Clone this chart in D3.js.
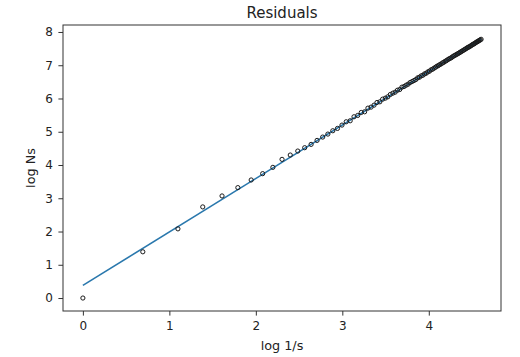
<!DOCTYPE html>
<html>
<head>
<meta charset="utf-8">
<script src="https://cdn.jsdelivr.net/npm/d3@7"></script>
<style>
  html, body { margin: 0; padding: 0; background: #fff; }
  svg { display: block; font-family: "DejaVu Sans", sans-serif; }
</style>
</head>
<body>
<svg id="chart" width="520" height="357"></svg>
<script>
// ---- data ----
const logInvS = [0, 0.693, 1.099, 1.386, 1.609, 1.792, 1.946, 2.079, 2.197, 2.303,
  2.398, 2.485, 2.565, 2.639, 2.708, 2.773, 2.833, 2.890, 2.944, 2.996,
  3.045, 3.091, 3.135, 3.178, 3.219, 3.258, 3.296, 3.332, 3.367, 3.401,
  3.434, 3.466, 3.497, 3.526, 3.555, 3.584, 3.611, 3.638, 3.664, 3.689,
  3.714, 3.738, 3.761, 3.784, 3.807, 3.829, 3.850, 3.871, 3.892, 3.912,
  3.932, 3.951, 3.970, 3.989, 4.007, 4.025, 4.043, 4.060, 4.078, 4.094,
  4.111, 4.127, 4.143, 4.159, 4.174, 4.190, 4.205, 4.220, 4.234, 4.248,
  4.263, 4.277, 4.290, 4.304, 4.317, 4.331, 4.344, 4.357, 4.369, 4.382,
  4.394, 4.407, 4.419, 4.431, 4.443, 4.454, 4.466, 4.477, 4.489, 4.500,
  4.511, 4.522, 4.533, 4.543, 4.554, 4.564, 4.575, 4.585, 4.595, 4.605];
const logNs = [0, 1.39, 2.08, 2.74, 3.07, 3.32, 3.55, 3.74, 3.93, 4.17,
  4.30, 4.42, 4.52, 4.62, 4.74, 4.84, 4.93, 5.03, 5.10, 5.20,
  5.30, 5.33, 5.45, 5.49, 5.58, 5.60, 5.71, 5.74, 5.80, 5.88,
  5.90, 5.98, 6.01, 6.05, 6.12, 6.16, 6.19, 6.25, 6.27, 6.34,
  6.36, 6.40, 6.43, 6.48, 6.51, 6.54, 6.57, 6.62, 6.64, 6.68,
  6.70, 6.74, 6.76, 6.80, 6.82, 6.86, 6.88, 6.91, 6.94, 6.97,
  6.99, 7.02, 7.04, 7.07, 7.09, 7.12, 7.14, 7.17, 7.19, 7.21,
  7.23, 7.26, 7.28, 7.30, 7.32, 7.34, 7.36, 7.38, 7.40, 7.42,
  7.44, 7.46, 7.48, 7.50, 7.52, 7.54, 7.55, 7.57, 7.59, 7.61,
  7.63, 7.64, 7.66, 7.68, 7.70, 7.71, 7.73, 7.75, 7.76, 7.78];
const fitX = [0, 4.605];
const fitY = [0.38, 7.78];
const xTicks = [0, 1, 2, 3, 4];
const yTicks = [0, 1, 2, 3, 4, 5, 6, 7, 8];
const titleText = "Residuals";
const xLabel = "log 1/s";
const yLabel = "log Ns";

// ---- layout ----
const plot = { left: 63, right: 501, top: 25, bottom: 311 };
const svg = d3.select("#chart");

const x = d3.scaleLinear().domain([-0.230, 4.835]).range([plot.left, plot.right]);
const y = d3.scaleLinear().domain([-0.39, 8.21]).range([plot.bottom, plot.top]);

const tickColor = "#333";
const xAxis = svg.append("g")
  .attr("transform", `translate(0,${plot.bottom})`)
  .call(d3.axisBottom(x).tickValues(xTicks).tickFormat(d3.format("d")).tickSize(4.6).tickPadding(5.5));
const yAxis = svg.append("g")
  .attr("transform", `translate(${plot.left},0)`)
  .call(d3.axisLeft(y).tickValues(yTicks).tickFormat(d3.format("d")).tickSize(4.6).tickPadding(5.5));
[xAxis, yAxis].forEach(g => {
  g.select(".domain").remove();
  g.selectAll("line").attr("stroke", tickColor).attr("stroke-width", 1);
  g.selectAll("text").attr("fill", "#222").style("font-size", "12px")
    .style("font-family", "'DejaVu Sans', sans-serif");
});

// fit line
svg.append("path")
  .datum(fitX.map((d, i) => [d, fitY[i]]))
  .attr("fill", "none")
  .attr("stroke", "#2a78ad")
  .attr("stroke-width", 1.6)
  .attr("d", d3.line().x(d => x(d[0])).y(d => y(d[1])));

// points
svg.append("g").selectAll("circle")
  .data(logInvS.map((d, i) => [d, logNs[i]]))
  .join("circle")
  .attr("cx", d => x(d[0]))
  .attr("cy", d => y(d[1]))
  .attr("r", 2.1)
  .attr("fill", "none")
  .attr("stroke", "#1a1a1a")
  .attr("stroke-width", 1);

// frame
svg.append("rect")
  .attr("x", plot.left).attr("y", plot.top)
  .attr("width", plot.right - plot.left).attr("height", plot.bottom - plot.top)
  .attr("fill", "none").attr("stroke", "#333").attr("stroke-width", 1);

// texts
svg.append("text").attr("x", (plot.left + plot.right) / 2).attr("y", 18)
  .attr("text-anchor", "middle").style("font-size", "15px").attr("fill", "#222").text(titleText);
svg.append("text").attr("x", (plot.left + plot.right) / 2).attr("y", 349.5)
  .attr("text-anchor", "middle").style("font-size", "12.8px").attr("fill", "#222").text(xLabel);
svg.append("text").attr("transform", `translate(34.5,${(plot.top + plot.bottom) / 2}) rotate(-90)`)
  .attr("text-anchor", "middle").style("font-size", "12.8px").attr("fill", "#222").text(yLabel);
</script>
</body>
</html>
